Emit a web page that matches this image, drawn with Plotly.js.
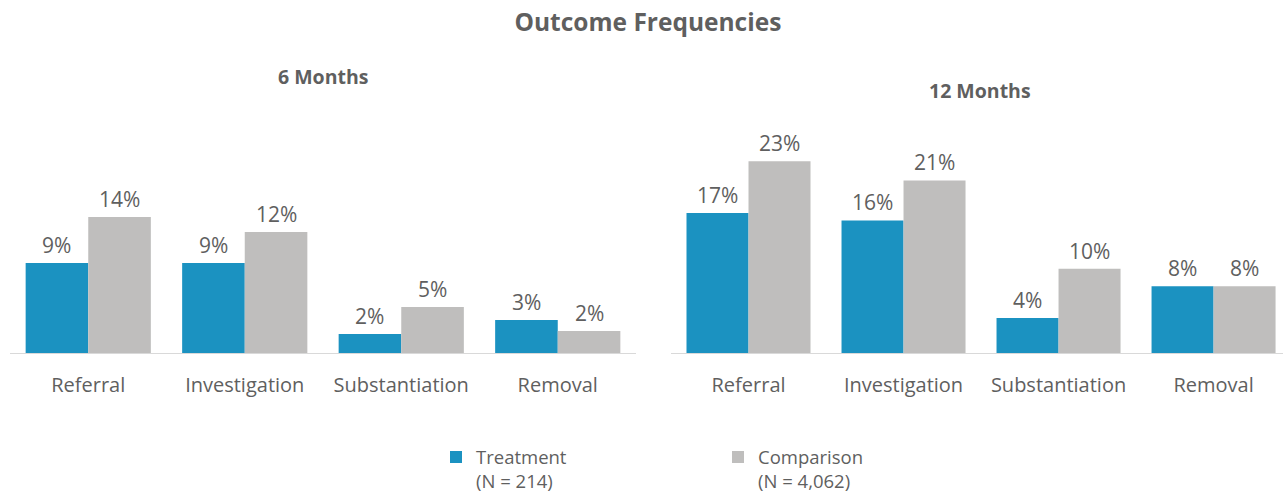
<!DOCTYPE html>
<html>
<head>
<meta charset="utf-8">
<script src="https://cdn.plot.ly/plotly-3.0.1.min.js"></script>
<style>html,body{margin:0;padding:0;background:#fff;}#chart{width:1283px;height:494px;}</style>
</head>
<body>
<div id="chart"></div>
<script>
var categories = ["Referral", "Investigation", "Substantiation", "Removal"];
var treatment6 = [0.090, 0.090, 0.019, 0.033];
var comparison6 = [0.136, 0.121, 0.046, 0.022];
var treatment12 = [0.168, 0.159, 0.042, 0.080];
var comparison12 = [0.230, 0.207, 0.101, 0.080];
var seriesNames = ["Treatment<br>(N = 214)", "Comparison<br>(N = 4,062)"];
var panelTitles = ["6 Months", "12 Months"];

var blue = "#1B92C1", gray = "#BFBEBD", txt = "#5F5F5F";
var font = "Open Sans, Noto Sans, sans-serif";

var traces = [
  {type: "bar", x: categories, y: treatment6, name: seriesNames[0], marker: {color: blue}, xaxis: "x", yaxis: "y", legendgroup: "t", hoverinfo: "y"},
  {type: "bar", x: categories, y: comparison6, name: seriesNames[1], marker: {color: gray}, xaxis: "x", yaxis: "y", legendgroup: "c", hoverinfo: "y"},
  {type: "bar", x: categories, y: treatment12, name: seriesNames[0], marker: {color: blue}, xaxis: "x2", yaxis: "y2", legendgroup: "t", showlegend: false, hoverinfo: "y"},
  {type: "bar", x: categories, y: comparison12, name: seriesNames[1], marker: {color: gray}, xaxis: "x2", yaxis: "y2", legendgroup: "c", showlegend: false, hoverinfo: "y"}
];

var annotations = [];
function addLabels(vals, offset, xr, yr) {
  vals.forEach(function (v, i) {
    annotations.push({
      x: i + offset, y: v, xref: xr, yref: yr,
      text: Math.round(v * 100) + "%",
      showarrow: false, xanchor: "center", yanchor: "bottom", yshift: 2,
      font: {family: font, size: 21, color: txt}
    });
  });
}
addLabels(treatment6, -0.2, "x", "y");
addLabels(comparison6, 0.2, "x", "y");
addLabels(treatment12, -0.2, "x2", "y2");
addLabels(comparison12, 0.2, "x2", "y2");
annotations.push({text: "<b>" + panelTitles[0] + "</b>", xref: "paper", yref: "paper", x: 0.2518, y: 1.091, showarrow: false, xanchor: "center", yanchor: "middle", font: {family: font, size: 19.5, color: txt}});
annotations.push({text: "<b>" + panelTitles[1] + "</b>", xref: "paper", yref: "paper", x: 0.7638, y: 1.0395, showarrow: false, xanchor: "center", yanchor: "middle", font: {family: font, size: 19.5, color: txt}});

var xbase = {
  type: "category", showgrid: false, zeroline: false, showline: true, linecolor: "#D9D9D9", linewidth: 1,
  ticks: "", ticklabelstandoff: 14, tickfont: {family: font, size: 20, color: txt}, fixedrange: true, automargin: false
};
var ybase = {visible: false, showgrid: false, zeroline: false, fixedrange: true, automargin: false};

var layout = {
  width: 1283, height: 494,
  margin: {l: 0, r: 0, t: 100, b: 141, autoexpand: false},
  paper_bgcolor: "#fff", plot_bgcolor: "#fff",
  barmode: "group", bargap: 0.2, bargroupgap: 0,
  title: {text: "<b>Outcome Frequencies</b>", x: 0.505, xanchor: "center", y: 0.955, yref: "container", yanchor: "middle", font: {family: font, size: 24.5, color: txt}},
  xaxis: Object.assign({}, xbase, {domain: [10 / 1283, 636 / 1283], range: [-0.5, 3.5]}),
  yaxis: Object.assign({}, ybase, {range: [0, 0.253]}),
  xaxis2: Object.assign({}, xbase, {domain: [671 / 1283, 1], range: [-0.5, 3.448], anchor: "y2"}),
  yaxis2: Object.assign({}, ybase, {range: [0, 0.3035], anchor: "x2"}),
  showlegend: true,
  legend: {orientation: "h", x: 436 / 1283, xanchor: "left", y: -0.338, yanchor: "top", valign: "top", entrywidth: 237, entrywidthmode: "pixels", traceorder: "normal", font: {family: font, size: 18.5, color: txt}},
  annotations: annotations
};

Plotly.newPlot("chart", traces, layout, {displayModeBar: false, staticPlot: true});
</script>
</body>
</html>
